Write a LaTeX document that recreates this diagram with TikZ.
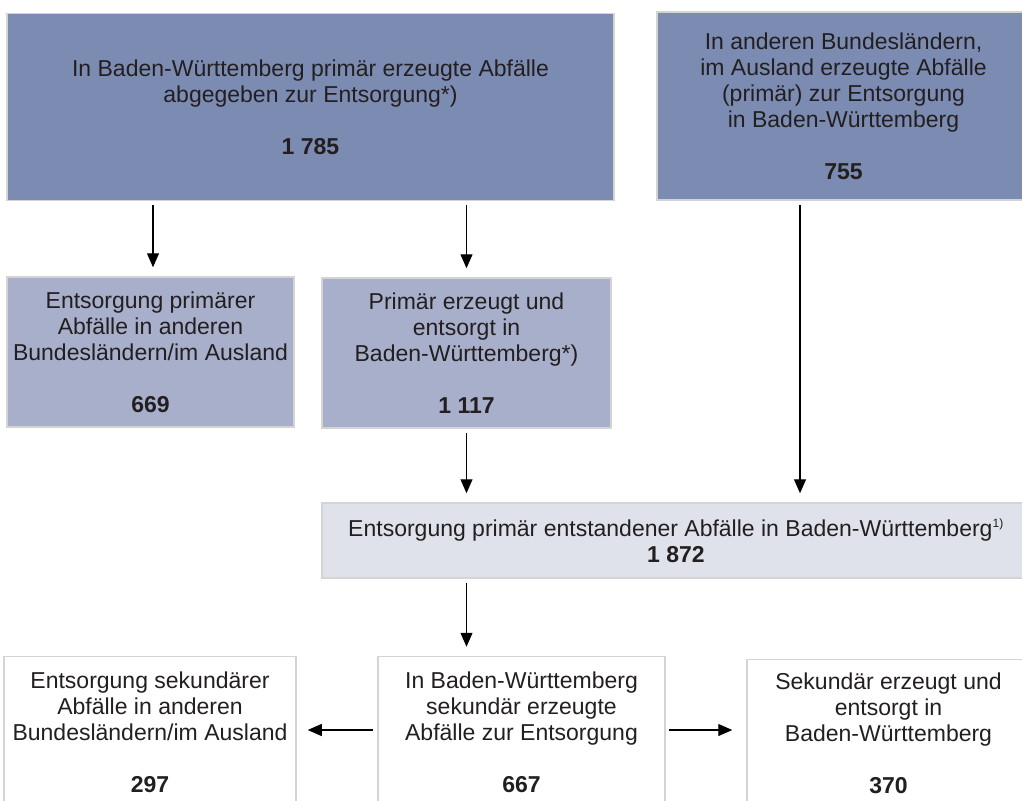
\documentclass[tikz,border=0pt]{standalone}
\usepackage{fontspec}
\setmainfont{Liberation Sans}
\usetikzlibrary{arrows.meta,calc}
\definecolor{darkfill}{RGB}{123,139,178}
\definecolor{midfill}{RGB}{167,175,203}
\definecolor{lightfill}{RGB}{223,226,235}
\definecolor{bordergray}{RGB}{212,212,212}
\definecolor{txt}{RGB}{35,31,32}
\begin{document}
\begin{tikzpicture}[x=1pt,y=-1pt,
  box/.style={draw=bordergray, line width=1.5pt, inner sep=0pt, align=center, text=txt,
    font=\fontsize{23}{26}\selectfont},
  arr/.style={-{Triangle[length=14pt,width=12pt]}, line width=1.2pt, draw=black}]
\useasboundingbox (0,0) rectangle (1022,800);
\fill[white] (0,0) rectangle (1022,800);

\node[box, fill=darkfill, minimum width=607pt, minimum height=187pt] (A) at (310.5,107)
  {In Baden-Württemberg primär erzeugte Abfälle\\abgegeben zur Entsorgung*)\\[26pt]\textbf{1 785}};
\node[box, fill=darkfill, minimum width=373pt, minimum height=188pt] (B) at (843.5,106)
  {In anderen Bundesländern,\\im Ausland erzeugte Abfälle\\(primär) zur Entsorgung\\in Baden-Württemberg\\[26pt]\textbf{755}};
\node[box, fill=midfill, minimum width=287pt, minimum height=150pt] (C) at (150.5,352)
  {Entsorgung primärer\\Abfälle in anderen\\Bundesländern/im Ausland\\[26pt]\textbf{669}};
\node[box, fill=midfill, minimum width=289pt, minimum height=150pt] (D) at (466.5,353)
  {Primär erzeugt und\\entsorgt in\\Baden-Württemberg*)\\[26pt]\textbf{1 117}};
\node[box, fill=lightfill, minimum width=708pt, minimum height=75pt] (E) at (676,540.5)
  {Entsorgung primär entstandener Abfälle in Baden-Württemberg\textsuperscript{\fontsize{12}{12}\selectfont 1)}\\\textbf{1 872}};
\node[box, fill=white, minimum width=292pt, minimum height=152pt] (F) at (150,732.5)
  {Entsorgung sekundärer\\Abfälle in anderen\\Bundesländern/im Ausland\\[26pt]\textbf{297}};
\node[box, fill=white, minimum width=287pt, minimum height=152pt] (G) at (521.5,732.5)
  {In Baden-Württemberg\\sekundär erzeugte\\Abfälle zur Entsorgung\\[26pt]\textbf{667}};
\node[box, fill=white, minimum width=283pt, minimum height=148pt] (H) at (888.5,733.5)
  {Sekundär erzeugt und\\entsorgt in\\Baden-Württemberg\\[26pt]\textbf{370}};

\coordinate (bx) at (800,0);
\coordinate (ax) at (153,0);
\coordinate (hy) at (0,730);
\draw[arr] ($(A.south -| ax)+(0,4)$) -- ($(C.north -| ax)+(0,-9)$);
\draw[arr] ($(A.south -| D.north)+(0,4)$) -- ($(D.north)+(0,-9)$);
\draw[arr] ($(B.south -| bx)+(0,4)$) -- ($(E.north -| bx)+(0,-9)$);
\draw[arr] ($(D.south)+(0,4)$) -- ($(E.north -| D.south)+(0,-9)$);
\draw[arr] ($(E.south -| D.south)+(0,4)$) -- ($(G.north -| D.south)+(0,-9)$);
\draw[arr] ($(G.west |- hy)+(-4,0)$) -- ($(F.east |- hy)+(11,0)$);
\draw[arr] ($(G.east |- hy)+(3,0)$) -- ($(H.west |- hy)+(-14,0)$);
\end{tikzpicture}
\end{document}
